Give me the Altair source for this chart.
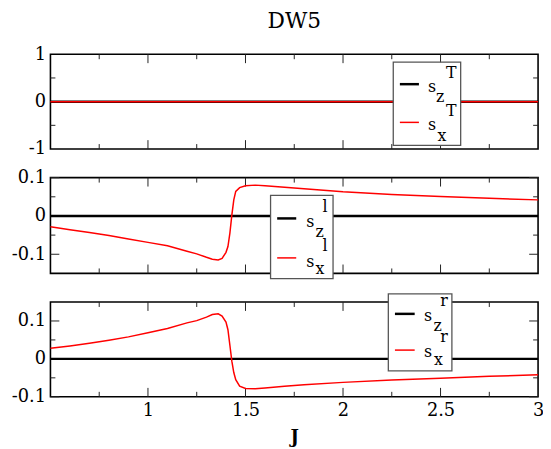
import altair as alt
import pandas as pd

# ---------------- data ----------------
J = [0.5, 0.6, 0.7, 0.8, 0.9, 1.0, 1.1, 1.2, 1.25, 1.3, 1.33, 1.36, 1.38, 1.40,
     1.41, 1.42, 1.43, 1.44, 1.45, 1.47, 1.5, 1.55, 1.6, 1.7, 1.8, 2.0, 2.25,
     2.5, 2.75, 3.0]

sz_T = [0.0] * len(J)
sx_T = [0.0] * len(J)

sz_l = [0.0] * len(J)
sx_l = [-0.028, -0.036, -0.043, -0.051, -0.060, -0.069, -0.078, -0.092, -0.099,
        -0.108, -0.113, -0.115, -0.111, -0.095, -0.080, -0.045, 0.002, 0.042,
        0.064, 0.074, 0.079, 0.0805, 0.079, 0.075, 0.071, 0.063, 0.056, 0.051,
        0.046, 0.042]

sz_r = [0.0] * len(J)
sx_r = [0.028, 0.034, 0.041, 0.049, 0.058, 0.069, 0.080, 0.095, 0.101, 0.110,
        0.117, 0.119, 0.113, 0.097, 0.077, 0.036, -0.006, -0.036, -0.055, -0.072,
        -0.078, -0.079, -0.077, -0.072, -0.068, -0.062, -0.056, -0.051, -0.046,
        -0.042]

x_domain = [0.5, 3.0]
x_labels = [1.0, 1.5, 2.0, 2.5, 3.0]
x_major = [1.0, 1.5, 2.0, 2.5]
x_minor = [0.75, 1.25, 1.75, 2.25, 2.75]

y_domain_T = [-1.0, 1.0]
y_labels_T = [-1.0, 0.0, 1.0]
y_major_T = [0.0]
y_minor_T = [-0.5, 0.5]

y_domain_l = [-0.15, 0.1]
y_labels_l = [-0.1, 0.0, 0.1]
y_major_l = [-0.1, 0.0, 0.1]
y_minor_l = [-0.05, 0.05]

y_domain_r = [-0.1, 0.15]
y_labels_r = [-0.1, 0.0, 0.1]
y_major_r = [-0.1, 0.0, 0.1]
y_minor_r = [-0.05, 0.05]

title_text = "DW5"
x_title = "J"
sup_T, sup_l, sup_r = "T", "l", "r"

# ---------------- layout / style ----------------
FONT = "DejaVu Serif"
W, H = 494, 347
TICK = "#222222"
MAJ, MIN = 9, 5

panels = [
    dict(sz=sz_T, sx=sx_T, dom=y_domain_T, labels=y_labels_T, major=y_major_T,
         minor=y_minor_T, rng=[96, 0]),
    dict(sz=sz_l, sx=sx_l, dom=y_domain_l, labels=y_labels_l, major=y_major_l,
         minor=y_minor_l, rng=[222, 125]),
    dict(sz=sz_r, sx=sx_r, dom=y_domain_r, labels=y_labels_r, major=y_major_r,
         minor=y_minor_r, rng=[347, 251]),
]

xsc = alt.Scale(domain=x_domain, nice=False, zero=False)
xax = alt.Axis(orient="bottom", values=x_labels, labelExpr="'' + datum.value",
               ticks=False, tickSize=0, domain=False, grid=False,
               labelFont=FONT, labelFontSize=18, labelColor="black",
               labelPadding=5, labelFlush=False, labelOverlap=False,
               title=x_title, titleFont=FONT, titleFontSize=18,
               titleFontWeight="bold", titleColor="black", titleY=46,
               titleBaseline="alphabetic")

one = pd.DataFrame({"k": [0]})


def panel_layer(p):
    df = pd.DataFrame({"J": J, "sz": p["sz"], "sx": p["sx"]})
    ysc = alt.Scale(domain=p["dom"], range=p["rng"], nice=False, zero=False)
    yax = alt.Axis(orient="left", values=p["labels"], labelExpr="'' + datum.value",
                   ticks=False, tickSize=0, domain=False, grid=False, title=None,
                   labelFont=FONT, labelFontSize=18, labelColor="black",
                   labelPadding=5, labelFlush=False, labelOverlap=False)
    lo, hi = p["dom"]

    def XF(f):
        return alt.X(f, type="quantitative", scale=xsc, axis=xax)

    def YF(f):
        return alt.Y(f, type="quantitative", scale=ysc, axis=yax)

    def XD(v):
        return alt.XDatum(v, type="quantitative", scale=xsc, axis=xax)

    def YD(v):
        return alt.YDatum(v, type="quantitative", scale=ysc, axis=yax)

    layers = []
    # frame
    layers.append(alt.Chart(one).mark_rect(filled=False, stroke="black", strokeWidth=1.6)
                  .encode(x=XD(x_domain[0]), x2=alt.X2Datum(x_domain[1]),
                          y=YD(hi), y2=alt.Y2Datum(lo)))
    # inward x ticks (top and bottom)
    for vals, ln in ((x_major, MAJ), (x_minor, MIN)):
        tdf = pd.DataFrame({"t": vals})
        layers.append(alt.Chart(tdf).mark_rule(color=TICK, strokeWidth=1, y2Offset=ln)
                      .encode(x=XF("t"), y=YD(hi), y2=alt.Y2Datum(hi)))
        layers.append(alt.Chart(tdf).mark_rule(color=TICK, strokeWidth=1, y2Offset=-ln)
                      .encode(x=XF("t"), y=YD(lo), y2=alt.Y2Datum(lo)))
    # inward y ticks (left and right)
    for vals, ln in ((p["major"], MAJ), (p["minor"], MIN)):
        tdf = pd.DataFrame({"t": vals})
        layers.append(alt.Chart(tdf).mark_rule(color=TICK, strokeWidth=1, x2Offset=ln)
                      .encode(y=YF("t"), x=XD(x_domain[0]), x2=alt.X2Datum(x_domain[0])))
        layers.append(alt.Chart(tdf).mark_rule(color=TICK, strokeWidth=1, x2Offset=-ln)
                      .encode(y=YF("t"), x=XD(x_domain[1]), x2=alt.X2Datum(x_domain[1])))
    # series
    layers.append(alt.Chart(df).mark_line(color="black", strokeWidth=2.5)
                  .encode(x=XF("J"), y=YF("sz")))
    layers.append(alt.Chart(df).mark_line(color="#ff0000", strokeWidth=1.5)
                  .encode(x=XF("J"), y=YF("sx")))
    return alt.layer(*layers)


# ---------------- legends (decoration, pixel positions) ----------------
legend_boxes = [
    dict(box=(347.3, 8.0, 415.6, 92.3), lx=(354, 373.3), ly=(30.3, 69.0),
         texts=[("s", 382.5, 38.0), ("z", 390.7, 48.7), (sup_T, 400.7, 24.0),
                ("s", 382.5, 76.3), ("x", 392.0, 88.0), (sup_T, 400.7, 63.0)]),
    dict(box=(223.0, 143.0, 286.3, 227.3), lx=(229.7, 249.0), ly=(166.3, 206.3),
         texts=[("s", 259.2, 174.7), ("z", 268.5, 184.7), (sup_l, 275.7, 160.3),
                ("s", 259.2, 215.3), ("x", 268.5, 223.0), (sup_l, 275.7, 199.7)]),
    dict(box=(342.3, 242.7, 406.7, 320.7), lx=(349.0, 369.0), ly=(263.0, 299.7),
         texts=[("s", 378.5, 270.3), ("z", 388.0, 280.7), (sup_r, 395.0, 255.3),
                ("s", 378.5, 306.3), ("x", 388.5, 315.3), (sup_r, 395.0, 292.0)]),
]

deco = []
for lg in legend_boxes:
    x0, y0, x1, y1 = lg["box"]
    deco.append(alt.Chart(one).mark_rect(fill="white", stroke="#555555", strokeWidth=1.3)
                .encode(x=alt.value(x0), x2=alt.value(x1), y=alt.value(y0), y2=alt.value(y1)))
    deco.append(alt.Chart(one).mark_rule(color="black", strokeWidth=2.5)
                .encode(x=alt.value(lg["lx"][0]), x2=alt.value(lg["lx"][1]), y=alt.value(lg["ly"][0])))
    deco.append(alt.Chart(one).mark_rule(color="#ff0000", strokeWidth=1.5)
                .encode(x=alt.value(lg["lx"][0]), x2=alt.value(lg["lx"][1]), y=alt.value(lg["ly"][1])))
    for t, tx, ty in lg["texts"]:
        deco.append(alt.Chart(one).mark_text(text=t, font=FONT, fontSize=16, color="black",
                                             align="left", baseline="alphabetic")
                    .encode(x=alt.value(tx), y=alt.value(ty)))

deco.append(alt.Chart(one).mark_text(text=title_text, font=FONT, fontSize=22, color="black",
                                     align="center", baseline="alphabetic")
            .encode(x=alt.value(W / 2), y=alt.value(-27.0)))

chart = alt.layer(
    panel_layer(panels[0]), panel_layer(panels[1]), panel_layer(panels[2]), *deco
).resolve_scale(y="independent").properties(
    width=W, height=H,
    autosize=alt.AutoSizeParams(type="none"),
    padding={"left": 43, "top": 44, "right": 5, "bottom": 48},
).configure_view(stroke="transparent")

chart.save("out.html", embed_options={"renderer": "svg", "actions": False})
